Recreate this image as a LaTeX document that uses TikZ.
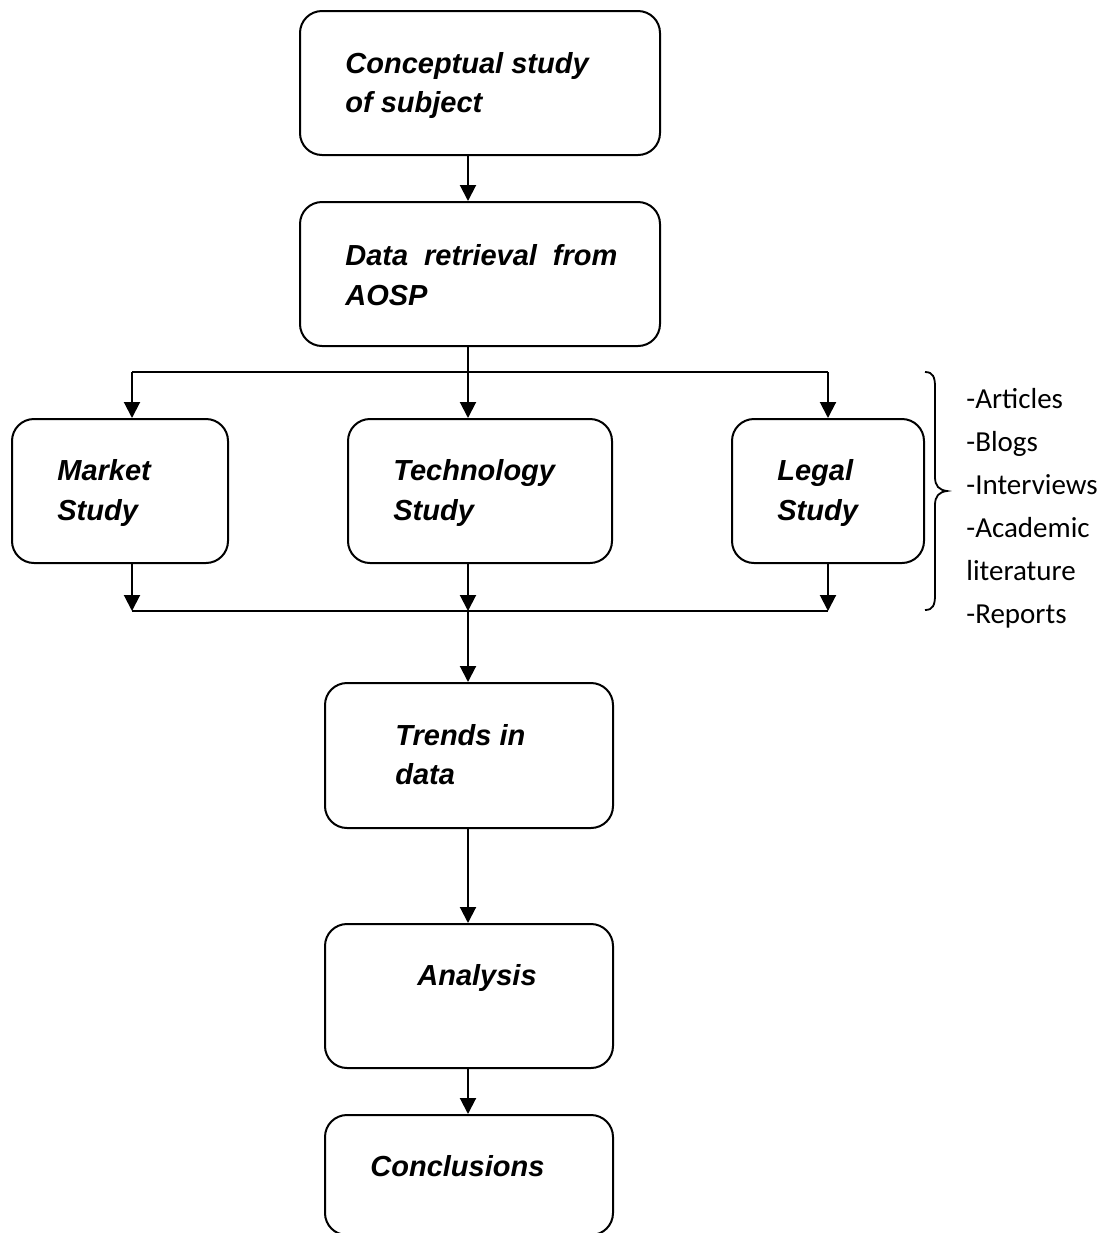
\documentclass[tikz,border=0pt]{standalone}
\usepackage{fontspec}
\setmainfont{Liberation Sans}
\newfontfamily\listfont{Carlito}
\usetikzlibrary{arrows.meta}
\begin{document}
\begin{tikzpicture}[x=0.5pt,y=-0.5pt,
  box/.style={draw, line width=1pt, rounded corners=11pt, inner sep=0pt, minimum height=72pt},
  lbl/.style={anchor=base west, inner sep=0pt, font=\fontsize{14.5pt}{20pt}\selectfont\bfseries\itshape},
  src/.style={anchor=base west, inner sep=0pt, font=\fontsize{14.5pt}{18pt}\selectfont\listfont},
  link/.style={line width=1pt},
  arr/.style={link, -{Triangle[length=8pt,width=8pt]}}]
\useasboundingbox (0,0) rectangle (1111,1233);
\clip (0,0) rectangle (1111,1233);

% process boxes
\node[box, minimum width=180pt] (concept) at (480,83) {};
\node[box, minimum width=180pt] (retrieve) at (480,274) {};
\node[box, minimum width=108pt] (market) at (120,491) {};
\node[box, minimum width=132pt] (tech) at (480,491) {};
\node[box, minimum width=96pt] (legal) at (828,491) {};
\node[box, minimum width=144pt, minimum height=72.5pt] (trends) at (469,755.5) {};
\node[box, minimum width=144pt] (analysis) at (469,996) {};
\node[box, minimum width=144pt, minimum height=60pt] (concl) at (469,1175) {};

% box texts
\node[lbl] (t1a) at (345,73) {Conceptual study};
\node[lbl] (t1b) at (345,112) {of subject};
\node[lbl] (t2a) at (345,265) {\hbox to 136pt{Data\hfill retrieval\hfill from}};
\node[lbl] (t2b) at (345,305) {AOSP};
\node[lbl] (t3a) at (57,480) {Market};
\node[lbl] (t3b) at (57,520) {Study};
\node[lbl] (t4a) at (393,480) {Technology};
\node[lbl] (t4b) at (393,520) {Study};
\node[lbl] (t5a) at (777,480) {Legal};
\node[lbl] (t5b) at (777,520) {Study};
\node[lbl] (t6a) at (395,745) {Trends in};
\node[lbl] (t6b) at (395,784) {data};
\node[lbl] (t7) at (417,985) {Analysis};
\node[lbl] (t8) at (370,1176) {Conclusions};

% junction points of the split and the merge
\coordinate (col) at (468,0);
\coordinate (sp) at (468,372);
\coordinate (spL) at (132,372);
\coordinate (spR) at (828,372);
\coordinate (mg) at (468,611);
\coordinate (mgL) at (132,611);
\coordinate (mgR) at (828,611);

% connectors
\draw[arr] (concept.south -| col) -- (retrieve.north -| col);
\draw[link] (retrieve.south -| sp) -- (sp);
\draw[link] (spL) -- (spR);
\draw[arr] (spL) -- (market.north -| spL);
\draw[arr] (sp) -- (tech.north -| sp);
\draw[arr] (spR) -- (legal.north -| spR);
\draw[arr] (market.south -| mgL) -- (mgL);
\draw[arr] (tech.south -| mg) -- (mg);
\draw[arr] (legal.south -| mgR) -- (mgR);
\draw[link] (mgL) -- (mgR);
\draw[arr] (mg) -- (trends.north -| mg);
\draw[arr] (trends.south -| col) -- (analysis.north -| col);
\draw[arr] (analysis.south -| col) -- (concl.north -| col);

% brace with the list of sources
\coordinate (brTop) at (925,372);
\coordinate (brTip) at (947,491);
\coordinate (brBot) at (925,610);
\draw[line width=0.9pt] (brTop) .. controls (933,372) and (935,377) .. (935,387)
  -- (935,477) .. controls (935,486) and (939,490) .. (brTip)
  .. controls (939,492) and (935,496) .. (935,505)
  -- (935,595) .. controls (935,605) and (933,610) .. (brBot);

\node[src] (s1) at (966,408) {-Articles};
\node[src] (s2) at (966,451) {-Blogs};
\node[src] (s3) at (966,494) {-Interviews};
\node[src] (s4) at (966,537) {-Academic};
\node[src] (s5) at (966,580) {literature};
\node[src] (s6) at (966,623) {-Reports};
\end{tikzpicture}
\end{document}
